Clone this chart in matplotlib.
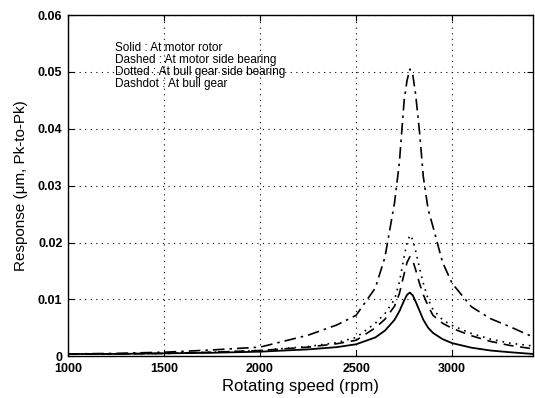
import matplotlib
matplotlib.use("Agg")
import matplotlib.pyplot as plt

# rotating speed (rpm) and responses
rpm = [1000, 1250, 1500, 1750, 2000, 2250, 2400, 2500, 2600, 2650, 2700, 2725,
       2750, 2765, 2780, 2795, 2810, 2830, 2850, 2875, 2900, 2950, 3000, 3100,
       3200, 3300, 3420]

motor_rotor = [0.0004, 0.0004, 0.0005, 0.0006, 0.0008, 0.0012, 0.0016, 0.0021,
               0.0033, 0.0045, 0.0064, 0.0079, 0.0098, 0.0108, 0.0112, 0.0107,
               0.0096, 0.0080, 0.0064, 0.0050, 0.0041, 0.0030, 0.0023, 0.0015,
               0.0010, 0.0007, 0.0004]

motor_side_bearing = [0.0004, 0.0004, 0.0005, 0.0007, 0.0010, 0.0016, 0.0022,
                      0.0028, 0.0050, 0.0065, 0.0088, 0.0110, 0.0145, 0.0165,
                      0.0175, 0.0168, 0.0152, 0.0128, 0.0108, 0.0088, 0.0072,
                      0.0058, 0.0049, 0.0036, 0.0026, 0.0019, 0.0013]

bull_gear_side_bearing = [0.0004, 0.0004, 0.0005, 0.0007, 0.0010, 0.0017,
                          0.0024, 0.0033, 0.0058, 0.0075, 0.0100, 0.0130,
                          0.0175, 0.0200, 0.0213, 0.0205, 0.0185, 0.0155,
                          0.0128, 0.0100, 0.0082, 0.0064, 0.0054, 0.0040,
                          0.0030, 0.0023, 0.0018]

bull_gear = [0.0004, 0.0005, 0.0007, 0.0011, 0.0016, 0.0037, 0.0055, 0.0072,
             0.0120, 0.0174, 0.0270, 0.0340, 0.0450, 0.0485, 0.0505, 0.0495,
             0.0460, 0.0395, 0.0315, 0.0258, 0.0228, 0.0165, 0.0128, 0.0087,
             0.0066, 0.0052, 0.0034]

xticks = [1000, 1500, 2000, 2500, 3000]
yticks = [0, 0.01, 0.02, 0.03, 0.04, 0.05, 0.06]
ytick_labels = ["0", "0.01", "0.02", "0.03", "0.04", "0.05", "0.06"]

plt.rcParams['font.family'] = ['Liberation Sans', 'DejaVu Sans']

fig = plt.figure(figsize=(5.35, 3.98), dpi=100)
ax = fig.add_axes([0.127, 0.105, 0.869, 0.857])

ax.plot(rpm, motor_rotor, color='black', linestyle='-', linewidth=1.3)
ax.plot(rpm, motor_side_bearing, color='black', linestyle=(0, (6, 4)), linewidth=1.2)
ax.plot(rpm, bull_gear_side_bearing, color='black', linestyle=(0, (1, 3)), linewidth=1.2)
ax.plot(rpm, bull_gear, color='black', linestyle=(0, (7, 3, 1.5, 3)), linewidth=1.2)

ax.set_xlim(1000, 3420)
ax.set_ylim(0, 0.06)
ax.set_xticks(xticks)
ax.set_xticklabels([str(t) for t in xticks], fontweight='bold', fontsize=9)
ax.set_yticks(yticks)
ax.set_yticklabels(ytick_labels, fontweight='bold', fontsize=9)
ax.tick_params(direction='in', top=True, right=True, length=4)
ax.tick_params(axis='x', pad=5)
ax.tick_params(axis='y', pad=4)
ax.grid(True, color='black', linestyle=(0, (1, 4)), linewidth=0.8)
for s in ax.spines.values():
    s.set_linewidth(1.0)

ax.set_xlabel("Rotating speed (rpm)", fontsize=12, labelpad=3)
ax.set_ylabel("Response (\u03bcm, Pk-to-Pk)", fontsize=11, labelpad=7)

notes = ["Solid : At motor rotor",
         "Dashed : At motor side bearing",
         "Dotted : At bull gear side bearing",
         "Dashdot : At bull gear"]
for i, t in enumerate(notes):
    ax.text(0.102, 0.905 - i * 0.036, t, transform=ax.transAxes,
            fontsize=8.5, va='center', ha='left')

fig.savefig("out.png", dpi=100)
